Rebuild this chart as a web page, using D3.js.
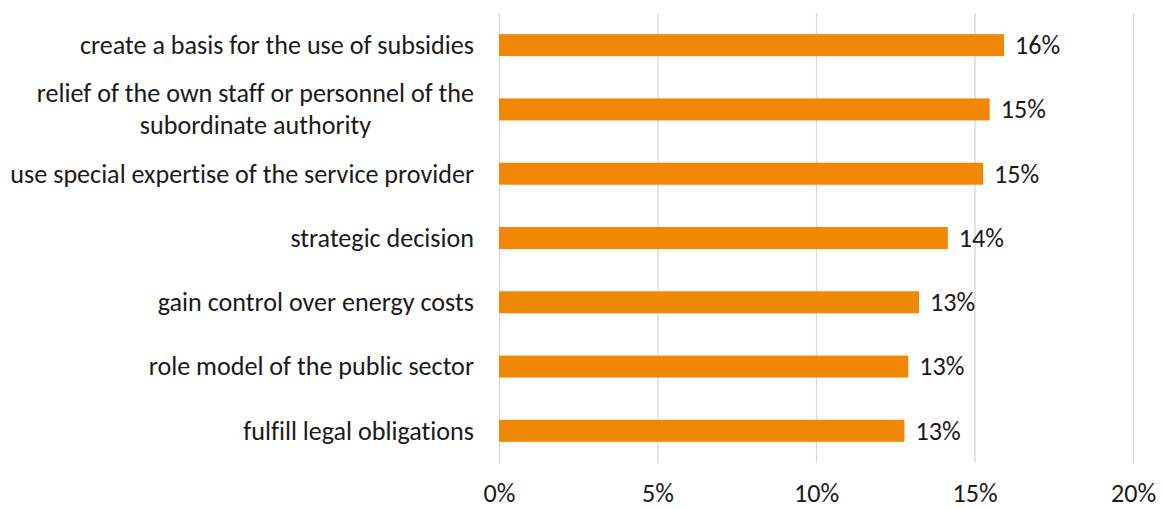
<!DOCTYPE html>
<html>
<head>
<meta charset="utf-8">
<script src="https://cdn.jsdelivr.net/npm/d3@7"></script>
<style>
  html, body { margin: 0; padding: 0; background: #fff; }
  svg { display: block; }
  text {
    font-family: Carlito, Calibri, "Open Sans", sans-serif;
    fill: #1a1a1a;
    font-variant-ligatures: none;
    font-feature-settings: "liga" 0, "clig" 0;
  }
</style>
</head>
<body>
<svg id="chart" width="1163" height="509"></svg>
<script>
// Reasons for contracting an external energy service provider (share of answers)
const categories = [
  ["create a basis for the use of subsidies"],
  ["relief of the own staff or personnel of the", "subordinate authority"],
  ["use special expertise of the service provider"],
  ["strategic decision"],
  ["gain control over energy costs"],
  ["role model of the public sector"],
  ["fulfill legal obligations"]
];
const shares = [0.1593, 0.1548, 0.1527, 0.1416, 0.1325, 0.1291, 0.1279];
const tickValues = [0, 0.05, 0.10, 0.15, 0.20];

const svg = d3.select("#chart");
const margin = { left: 499, right: 30, top: 13, bottom: 46 };
const W = 1163, H = 509;

// Pick a font size so the longest label spans the available width
const probe = svg.append("text").style("font-size", "20px").text(categories[2][0]);
const probeW = probe.node().getComputedTextLength();
probe.remove();
const fontSize = Math.max(18, Math.min(27, 20 * 464 / probeW));

const x = d3.scaleLinear().domain([0, 0.20]).range([margin.left, W - margin.right]);
const y = d3.scaleBand()
  .domain(d3.range(categories.length))
  .range([margin.top, H - margin.bottom])
  .paddingInner(0.658)
  .paddingOuter(0.329);

const pct = d3.format(".0%");

// Vertical gridlines
svg.append("g")
  .selectAll("line")
  .data(tickValues)
  .join("line")
  .attr("x1", d => x(d) + 0.5).attr("x2", d => x(d) + 0.5)
  .attr("y1", margin.top).attr("y2", H - margin.bottom)
  .attr("stroke", "#d9d9d9").attr("stroke-width", 1.3);

// Bottom axis labels (no domain line, no ticks)
const xAxis = d3.axisBottom(x).tickValues(tickValues).tickFormat(pct).tickSize(0).tickPadding(0);
const gx = svg.append("g").attr("transform", `translate(0, ${H - margin.bottom})`).call(xAxis);
gx.select(".domain").remove();
gx.selectAll("text")
  .attr("y", 0).attr("dy", 0)
  .attr("transform", "translate(0, 39)")
  .style("font-size", fontSize + "px")
  .attr("fill", "#1a1a1a")
  .style("font-family", "Carlito, Calibri, 'Open Sans', sans-serif");

// Bars
svg.append("g")
  .selectAll("rect")
  .data(shares)
  .join("rect")
  .attr("x", x(0))
  .attr("y", (d, i) => y(i))
  .attr("width", d => x(d) - x(0))
  .attr("height", y.bandwidth())
  .attr("fill", "#F18805");

// Value labels
svg.append("g")
  .selectAll("text")
  .data(shares)
  .join("text")
  .attr("x", d => x(d) + 11)
  .attr("y", (d, i) => y(i) + y.bandwidth() / 2)
  .attr("dy", "0.34em")
  .style("font-size", fontSize + "px")
  .text(d => pct(d));

// Category labels, right-aligned; wrapped lines are centred on each other
const labelRight = 474;
const lineGap = 32;
const catG = svg.append("g");
categories.forEach((lines, i) => {
  const cy = y(i) + y.bandwidth() / 2;
  const t = catG.append("text").style("font-size", fontSize + "px");
  if (lines.length === 1) {
    t.attr("x", labelRight).attr("y", cy).attr("dy", "0.34em")
      .attr("text-anchor", "end").text(lines[0]);
  } else {
    const m = catG.append("text").style("font-size", fontSize + "px").text(lines[0]);
    const w = m.node().getComputedTextLength();
    m.remove();
    const cx = labelRight - w / 2;
    lines.forEach((ln, k) => {
      t.append("tspan")
        .attr("x", cx)
        .attr("y", cy + (k - (lines.length - 1) / 2) * lineGap)
        .attr("dy", "0.34em")
        .attr("text-anchor", "middle")
        .text(ln);
    });
  }
});
</script>
</body>
</html>
